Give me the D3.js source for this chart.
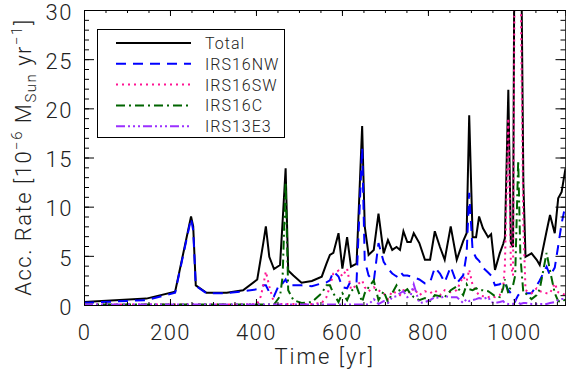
<!DOCTYPE html>
<html>
<head>
<meta charset="utf-8">
<script src="https://cdn.jsdelivr.net/npm/d3@7"></script>
<style>
  body { margin: 0; background: #fff; }
  svg { display: block; font-family: Roboto, "Liberation Sans", Arial, sans-serif; font-weight: 300; }
</style>
</head>
<body>
<svg id="chart" width="566" height="377"></svg>
<script>
// time samples [yr]
const time = [0, 145, 212, 249, 254, 260, 285, 332, 370, 403,
  411, 417, 423, 431, 442, 456, 462, 469, 475, 487,
  506, 530, 553, 564, 572, 580, 592, 601, 612, 621,
  634, 647, 653, 662, 674, 685, 697, 707, 717, 727,
  735, 743, 752, 760, 767, 780, 793, 805, 816, 828,
  839, 853, 867, 882, 890, 896, 904, 912, 919, 928,
  940, 947, 956, 967, 975, 979, 987, 993, 998, 1003,
  1010, 1015, 1022, 1027, 1041, 1053, 1060, 1076, 1084, 1095,
  1103, 1111, 1120];

// accretion rates [1e-6 Msun/yr]
const total = [0.30, 0.65, 1.35, 9.0, 8.0, 2.0, 1.25, 1.25, 1.5, 2.6,
  4.7, 6.3, 8.0, 4.9, 3.66, 4.07, 8.5, 13.9, 3.5, 3.0,
  2.27, 2.44, 2.88, 4.2, 5.1, 5.3, 7.3, 3.7, 6.9, 3.9,
  4.2, 18.2, 8.0, 5.1, 5.6, 9.3, 5.25, 6.6, 5.6, 5.9,
  5.6, 7.5, 6.4, 6.4, 7.3, 6.3, 4.6, 4.6, 7.5, 5.9,
  4.6, 8.0, 4.6, 6.5, 7.3, 19.3, 6.9, 6.9, 9.0, 7.8,
  6.9, 7.2, 3.56, 5.25, 6.2, 6.8, 21.9, 6.3, 5.9, 55,
  60, 45, 12.4, 4.9, 5.25, 4.6, 4.07, 7.5, 9.15, 7.3,
  10.85, 11.5, 13.9];

const irs16nw = [0.22, 0.5, 1.25, 8.8, 7.6, 1.95, 1.2, 1.2, 1.4, 1.6,
  1.7, 2.0, 2.0, 1.3, 0.9, 2.3, 2.2, 2.6, 2.0, 2.0,
  2.0, 1.9, 2.2, 2.3, 2.5, 3.4, 2.9, 1.8, 1.7, 2.5,
  2.4, 16.0, 4.5, 3.0, 2.4, 6.3, 4.4, 3.7, 3.2, 2.9,
  3.4, 3.0, 3.0, 2.9, 2.8, 2.6, 2.2, 2.3, 3.8, 3.2,
  2.3, 3.9, 2.2, 3.0, 5.2, 11.4, 5.5, 4.8, 4.5, 3.8,
  3.3, 3.0, 2.0, 2.1, 2.4, 2.2, 1.5, 1.2, 0.8, 0.4,
  1.0, 1.2, 1.2, 1.2, 1.2, 2.0, 2.5, 3.9, 3.0, 3.8,
  6.0, 8.3, 10.2];

const irs16sw = [0.05, 0.05, 0.05, 0.05, 0.05, 0.05, 0.05, 0.05, 0.05, 0.1,
  0.85, 2.0, 3.4, 1.9, 0.2, 0.1, 0.1, 0.1, 0.1, 0.1,
  0.1, 0.1, 0.2, 0.8, 1.9, 3.2, 3.5, 2.9, 3.7, 1.6,
  2.0, 2.5, 1.8, 1.4, 1.8, 1.5, 1.2, 0.6, 1.4, 1.2,
  1.0, 1.5, 1.4, 1.2, 1.7, 1.0, 1.4, 1.2, 1.5, 1.0,
  1.5, 1.3, 1.5, 2.9, 2.4, 3.6, 2.0, 1.4, 1.0, 0.9,
  0.8, 0.9, 0.8, 1.0, 1.8, 4.0, 19.0, 4.0, 3.0, 48,
  40, 35, 8.0, 1.5, 1.2, 1.7, 1.4, 1.2, 1.2, 2.2,
  1.3, 1.2, 1.0];

const irs16c = [0.05, 0.05, 0.05, 0.05, 0.05, 0.05, 0.05, 0.05, 0.05, 0.05,
  0.05, 0.05, 0.05, 0.05, 0.05, 0.9, 2.9, 12.5, 1.5, 0.5,
  0.2, 0.3, 1.2, 2.0, 2.0, 1.2, 0.3, 1.2, 0.5, 1.4,
  1.9, 0.3, 1.2, 1.8, 2.5, 0.5, 1.4, 0.3, 1.2, 2.0,
  1.4, 1.3, 1.6, 1.1, 0.8, 0.5, 0.7, 0.4, 1.0, 0.9,
  0.8, 1.5, 1.9, 1.0, 2.1, 1.6, 1.5, 1.7, 1.5, 1.5,
  1.4, 1.2, 0.9, 0.8, 1.7, 2.6, 1.2, 1.9, 2.0, 3.0,
  14.7, 5.0, 1.2, 1.2, 0.6, 1.0, 1.6, 5.3, 3.5, 1.2,
  0.4, 0.3, 0.6];

const irs13e3 = [0.05, 0.05, 0.05, 0.05, 0.05, 0.05, 0.05, 0.05, 0.05, 0.05,
  0.05, 0.05, 0.05, 0.05, 0.05, 0.05, 0.05, 0.05, 0.05, 0.05,
  0.05, 0.05, 0.05, 0.05, 0.05, 0.05, 0.05, 0.05, 0.05, 0.05,
  0.05, 0.05, 0.05, 0.05, 0.6, 0.1, 0.4, 0.2, 0.8, 0.9,
  1.2, 1.4, 0.8, 1.0, 2.1, 0.2, 0.3, 0.5, 0.8, 0.7,
  0.9, 0.8, 0.8, 0.2, 0.6, 0.4, 0.5, 0.6, 0.7, 0.6,
  0.8, 0.3, 0.2, 0.3, 0.4, 0.2, 0.1, 0.1, 0.1, 0.5,
  0.3, 0.1, 0.2, 0.2, 0.1, 0.1, 0.1, 0.1, 0.2, 0.3,
  0.5, 0.6, 0.6];

const seriesNames = ["Total", "IRS16NW", "IRS16SW", "IRS16C", "IRS13E3"];
const xTicks = [0, 200, 400, 600, 800, 1000];
const yTicks = [0, 5, 10, 15, 20, 25, 30];

const svg = d3.select("#chart");

const x = d3.scaleLinear().domain([0, 1120]).range([84, 565.5]);
const y = d3.scaleLinear().domain([0, 30]).range([305, 10]);

const styles = [
  { color: "#000000", dash: null },
  { color: "#0000ff", dash: "10,7" },
  { color: "#ff1493", dash: "2,4" },
  { color: "#006400", dash: "9,4,2,4" },
  { color: "#9b30ff", dash: "9,3,2,3,2,3,2,3" }
];
const values = [total, irs16nw, irs16sw, irs16c, irs13e3];

svg.append("defs").append("clipPath").attr("id", "plot-clip")
  .append("rect")
  .attr("x", x(0)).attr("y", y(30))
  .attr("width", x(1120) - x(0)).attr("height", y(0) - y(30));

const line = d3.line()
  .x(d => x(d[0]))
  .y(d => y(d[1]));

const lines = svg.append("g").attr("clip-path", "url(#plot-clip)");
values.forEach((vals, i) => {
  lines.append("path")
    .datum(time.map((t, j) => [t, vals[j]]))
    .attr("d", line)
    .attr("fill", "none")
    .attr("stroke", styles[i].color)
    .attr("stroke-width", 2)
    .attr("stroke-dasharray", styles[i].dash)
    .attr("stroke-linejoin", "miter");
});

// axes: a box with inward ticks on all four sides
function styleAxis(g) {
  g.select(".domain").attr("stroke", "#000").attr("stroke-width", 1);
  g.selectAll(".tick line").attr("stroke", "#000").attr("stroke-width", 1);
}
const tickFont = g => g.selectAll("text")
  .attr("font-size", 22).attr("fill", "#222")
  .attr("font-family", "Roboto, Liberation Sans, Arial, sans-serif")
  .attr("font-weight", 300)
  .style("letter-spacing", "1.5px");

const xMinor = d3.range(0, 1121, 50);
const yMinor = d3.range(0, 31, 1);

svg.append("g").attr("transform", `translate(0,${y(0)})`)
  .call(d3.axisBottom(x).tickValues(xMinor).tickSize(-3).tickFormat(""))
  .call(styleAxis);
svg.append("g").attr("transform", `translate(0,${y(0)})`)
  .call(d3.axisBottom(x).tickValues(xTicks).tickSize(-6).tickPadding(19).tickFormat(d3.format("d")))
  .call(styleAxis).call(tickFont);

svg.append("g").attr("transform", `translate(0,${y(30)})`)
  .call(d3.axisTop(x).tickValues(xMinor).tickSize(-3).tickFormat(""))
  .call(styleAxis);
svg.append("g").attr("transform", `translate(0,${y(30)})`)
  .call(d3.axisTop(x).tickValues(xTicks).tickSize(-6).tickFormat(""))
  .call(styleAxis);

svg.append("g").attr("transform", `translate(${x(0)},0)`)
  .call(d3.axisLeft(y).tickValues(yMinor).tickSize(-5).tickFormat(""))
  .call(styleAxis);
svg.append("g").attr("transform", `translate(${x(0)},0)`)
  .call(d3.axisLeft(y).tickValues(yTicks).tickSize(-10).tickPadding(11).tickFormat(d3.format("d")))
  .call(styleAxis).call(tickFont)
  .call(g => g.selectAll("text").attr("dy", "0.42em"));

svg.append("g").attr("transform", `translate(${x(1120)},0)`)
  .call(d3.axisRight(y).tickValues(yMinor).tickSize(-5).tickFormat(""))
  .call(styleAxis);
svg.append("g").attr("transform", `translate(${x(1120)},0)`)
  .call(d3.axisRight(y).tickValues(yTicks).tickSize(-10).tickFormat(""))
  .call(styleAxis);

// axis titles
svg.append("text")
  .attr("x", (x(0) + x(1120)) / 2).attr("y", 364)
  .attr("text-anchor", "middle")
  .attr("font-size", 22).attr("fill", "#222")
  .style("letter-spacing", "2px")
  .text("Time [yr]");

const yTitle = svg.append("text")
  .attr("transform", "translate(31,157) rotate(-90)")
  .attr("text-anchor", "middle")
  .attr("font-size", 22).attr("fill", "#222")
  .style("letter-spacing", "1.5px");
yTitle.append("tspan").text("Acc. Rate [10");
yTitle.append("tspan").attr("font-size", 15).attr("dy", -9).text("−6");
yTitle.append("tspan").attr("dy", 9).text(" M");
yTitle.append("tspan").attr("font-size", 15).attr("dy", 5).text("Sun");
yTitle.append("tspan").attr("dy", -5).text(" yr");
yTitle.append("tspan").attr("font-size", 15).attr("dy", -9).text("−1");
yTitle.append("tspan").attr("dy", 9).text("]");

// legend
const legend = svg.append("g");
legend.append("rect")
  .attr("x", 97.5).attr("y", 29.5).attr("width", 187).attr("height", 108)
  .attr("fill", "#fff").attr("stroke", "#000").attr("stroke-width", 1);
seriesNames.forEach((name, i) => {
  const ly = 43 + i * 20.8;
  legend.append("line")
    .attr("x1", 116).attr("x2", 191).attr("y1", ly).attr("y2", ly)
    .attr("stroke", styles[i].color).attr("stroke-width", 2)
    .attr("stroke-dasharray", styles[i].dash);
  legend.append("text")
    .attr("x", 205).attr("y", ly + 6)
    .attr("font-size", 16).attr("fill", "#222")
    .style("letter-spacing", "1px")
    .text(name);
});
</script>
</body>
</html>
